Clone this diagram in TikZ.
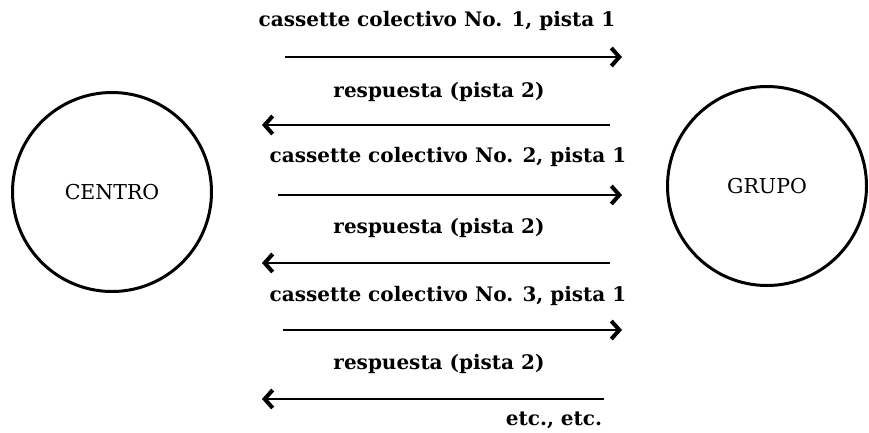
\documentclass[tikz,border=0pt]{standalone}
\usepackage{fontspec}
\setmainfont{DejaVu Serif}
\usetikzlibrary{arrows.meta}
\begin{document}
\begin{tikzpicture}[x=1pt,y=-1pt,
  party/.style={draw,circle,line width=3pt,minimum size=199pt,inner sep=0pt,font=\fontsize{20.5}{24}\selectfont},
  msg/.style={font=\bfseries\fontsize{20}{24}\selectfont,inner sep=0pt,anchor=center},
  flow/.style={line width=2pt,-{Straight Barb[length=8pt,width=18pt,line width=4pt]}}]
\useasboundingbox (0,0) rectangle (869,432);
\node[party] (centro) at (112,192) {CENTRO};
\node[party] (grupo) at (767,186) {GRUPO};
% labels
\node[msg] (l1) at (437,21) {cassette colectivo No. 1, pista 1};
\node[msg] (l2) at (439,92) {respuesta (pista 2)};
\node[msg] (l3) at (448,157) {cassette colectivo No. 2, pista 1};
\node[msg] (l4) at (439,228) {respuesta (pista 2)};
\node[msg] (l5) at (448,296) {cassette colectivo No. 3, pista 1};
\node[msg] (l6) at (439,364) {respuesta (pista 2)};
\node[msg] (l7) at (554,420) {etc., etc.};
% arrow endpoints
\coordinate (a1s) at (285,57);  \coordinate (a1e) at (622,57);
\coordinate (a2s) at (610,125); \coordinate (a2e) at (262,125);
\coordinate (a3s) at (278,195); \coordinate (a3e) at (622,195);
\coordinate (a4s) at (610,263); \coordinate (a4e) at (262,263);
\coordinate (a5s) at (283,330); \coordinate (a5e) at (622,330);
\coordinate (a6s) at (604,399); \coordinate (a6e) at (262,399);
\draw[flow] (a1s) -- (a1e);
\draw[flow] (a2s) -- (a2e);
\draw[flow] (a3s) -- (a3e);
\draw[flow] (a4s) -- (a4e);
\draw[flow] (a5s) -- (a5e);
\draw[flow] (a6s) -- (a6e);
\end{tikzpicture}
\end{document}
